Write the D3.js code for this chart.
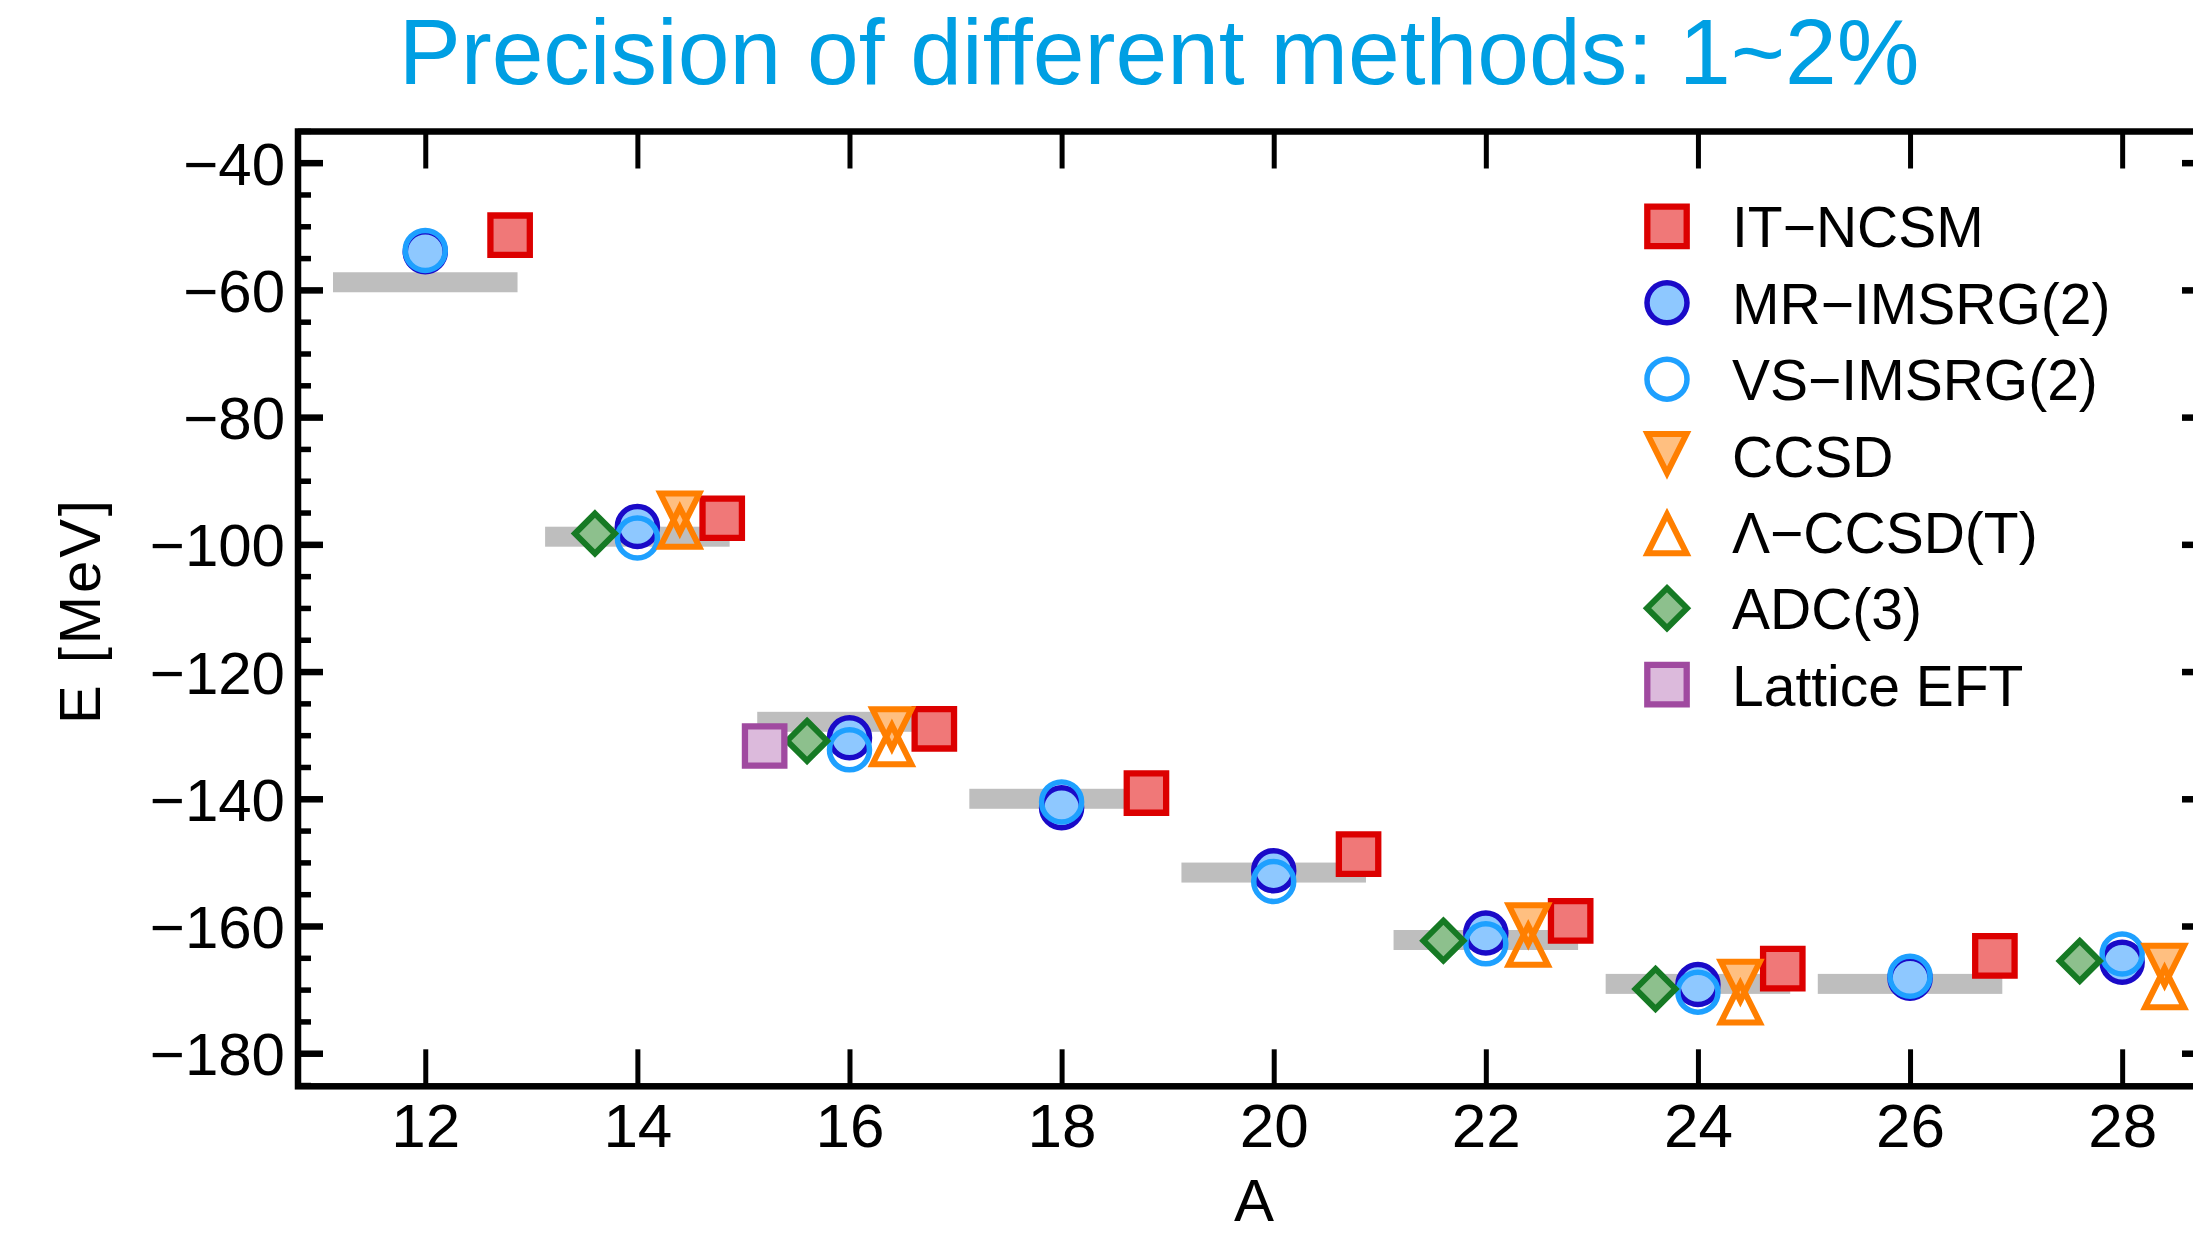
<!DOCTYPE html>
<html>
<head>
<meta charset="utf-8">
<script src="https://cdn.jsdelivr.net/npm/d3@7"></script>
<style>
  html, body { margin: 0; padding: 0; background: #ffffff; }
  svg { display: block; }
  text { font-family: "Liberation Sans", Arial, Helvetica, sans-serif; }
</style>
</head>
<body>
<div id="chart"></div>
<script>
// ---------------- data ----------------
const massNumbers = [12, 14, 16, 18, 20, 22, 24, 26, 28];
const experiment   = [-58.8, -98.8, -127.9, -140.0, -151.6, -162.2, -169.1, -169.1, null];
const itNcsm       = [-51.4, -95.9, -129.0, -139.1, -148.7, -159.2, -166.7, -164.7, null];
const mrImsrg2     = [-54.0, -97.2, -130.4, -141.4, -151.3, -161.1, -169.2, -168.2, -165.7];
const vsImsrg2     = [-53.8, -99.0, -132.3, -140.5, -153.0, -162.8, -170.4, -167.9, -164.4];
const ccsd         = [null, -95.4, -129.3, null, null, -160.1, -169.0, null, -166.5];
const lambdaCcsdT  = [null, -97.0, -131.2, null, null, -162.7, -171.8, null, -169.4];
const adc3         = [null, -98.3, -130.9, null, null, -162.3, -169.9, null, -165.5];
const latticeEft   = [null, null, -131.7, null, null, null, null, null, null];

const seriesNames  = ["IT\u2212NCSM", "MR\u2212IMSRG(2)", "VS\u2212IMSRG(2)", "CCSD", "\u039B\u2212CCSD(T)", "ADC(3)", "Lattice EFT"];
const seriesValues = [itNcsm, mrImsrg2, vsImsrg2, ccsd, lambdaCcsdT, adc3, latticeEft];
const seriesShiftA = [0.8, 0, 0, 0.4, 0.4, -0.4, -0.8];   // horizontal offset in A units
const exptHalfWidthA = 0.87;

const xTickValues = [12, 14, 16, 18, 20, 22, 24, 26, 28];
const yMajorTicks = [-40, -60, -80, -100, -120, -140, -160, -180];
const yMinorTicks = d3.range(-35, -186, -5).filter(v => v % 20 !== 0);

const titleText = "Precision of different methods: 1~2%";
const xLabel = "A";
const yLabel = "E [MeV]";

// ---------------- styles ----------------
const styles = [
  { shape: "square",  fill: "#f07878", stroke: "#dc0000", sw: 6.3 },
  { shape: "circle",  fill: "#8ec8ff", stroke: "#1a0ac8", sw: 5.5 },
  { shape: "circle",  fill: "none",    stroke: "#1ea0ff", sw: 5.5 },
  { shape: "down",    fill: "#ffbf80", stroke: "#ff7f00", sw: 6 },
  { shape: "up",      fill: "none",    stroke: "#ff7f00", sw: 6 },
  { shape: "diamond", fill: "#8dc08d", stroke: "#167a24", sw: 6 },
  { shape: "square",  fill: "#dcbadc", stroke: "#a04aa0", sw: 6.3 }
];

const W = 2193, H = 1238;
const L = 298, R = 2207, T = 131.5, B = 1086.3;

const svg = d3.select("#chart").append("svg")
  .attr("width", W).attr("height", H);

svg.append("rect").attr("width", W).attr("height", H).attr("fill", "#ffffff");

const x = d3.scaleLinear().domain([10.8, 28.8]).range([L, R]);
const y = d3.scaleLinear().domain([-35.1, -185.2]).range([T, B]);

svg.append("defs").append("clipPath").attr("id", "plotclip")
  .append("rect").attr("x", L).attr("y", T).attr("width", R - L).attr("height", B - T);

const plot = svg.append("g").attr("clip-path", "url(#plotclip)");

// experimental bars
const exptData = massNumbers.map((a, i) => ({ a, e: experiment[i] })).filter(d => d.e !== null);
plot.selectAll("rect.expt").data(exptData).enter().append("rect")
  .attr("class", "expt")
  .attr("x", d => x(d.a - exptHalfWidthA))
  .attr("width", d => x(d.a + exptHalfWidthA) - x(d.a - exptHalfWidthA))
  .attr("y", d => y(d.e) - 10)
  .attr("height", 20)
  .attr("fill", "#bebebe");

function symbolPath(shape) {
  switch (shape) {
    case "square":  return "M-19.7,-19.7H19.7V19.7H-19.7Z";
    case "diamond": return "M0,-20L20,0L0,20L-20,0Z";
    case "down":    return "M-19.5,-21.5L19.5,-21.5L0,17.5Z";
    case "up":      return "M0,-17.5L19.5,21.5L-19.5,21.5Z";
  }
  return null;
}

function drawSymbol(g, st) {
  if (st.shape === "circle") {
    g.append("circle").attr("r", 20)
      .attr("fill", st.fill).attr("stroke", st.stroke).attr("stroke-width", st.sw);
  } else {
    g.append("path").attr("d", symbolPath(st.shape))
      .attr("fill", st.fill).attr("stroke", st.stroke).attr("stroke-width", st.sw)
      .attr("stroke-linejoin", "miter").attr("stroke-miterlimit", 10);
  }
}

seriesValues.forEach((vals, si) => {
  const pts = massNumbers.map((a, i) => ({ a: a + seriesShiftA[si], e: vals[i] })).filter(d => d.e !== null);
  pts.forEach(p => {
    const g = plot.append("g").attr("transform", `translate(${x(p.a)},${y(p.e)})`);
    drawSymbol(g, styles[si]);
  });
});

// ---------------- axes ----------------
const xb = svg.append("g").attr("transform", `translate(0,${B})`)
  .call(d3.axisBottom(x).tickValues(xTickValues).tickSizeInner(-37).tickSizeOuter(0).tickPadding(0).tickFormat(d3.format("d")));
xb.select(".domain").remove();
xb.selectAll(".tick line").attr("stroke", "#000").attr("stroke-width", 5);
xb.selectAll(".tick text").attr("y", 61).attr("dy", 0).attr("font-size", 62).attr("fill", "#000")
  .attr("font-family", "Liberation Sans, Arial, sans-serif");

const xt = svg.append("g").attr("transform", `translate(0,${T})`)
  .call(d3.axisTop(x).tickValues(xTickValues).tickSizeInner(-37).tickSizeOuter(0).tickFormat(""));
xt.select(".domain").remove();
xt.selectAll(".tick line").attr("stroke", "#000").attr("stroke-width", 5);

const yl = svg.append("g").attr("transform", `translate(${L},0)`)
  .call(d3.axisLeft(y).tickValues(yMajorTicks).tickSizeInner(-25).tickSizeOuter(0).tickPadding(13));
yl.select(".domain").remove();
yl.selectAll(".tick line").attr("stroke", "#000").attr("stroke-width", 6.5);
yl.selectAll(".tick text").attr("dy", "0.36em").attr("font-size", 60).attr("fill", "#000")
  .attr("font-family", "Liberation Sans, Arial, sans-serif");

const ylm = svg.append("g").attr("transform", `translate(${L},0)`)
  .call(d3.axisLeft(y).tickValues(yMinorTicks).tickSizeInner(-13).tickSizeOuter(0).tickFormat(""));
ylm.select(".domain").remove();
ylm.selectAll(".tick line").attr("stroke", "#000").attr("stroke-width", 5.5);

const yr = svg.append("g").attr("transform", `translate(${R},0)`)
  .call(d3.axisRight(y).tickValues(yMajorTicks).tickSizeInner(-25).tickSizeOuter(0).tickFormat(""));
yr.select(".domain").remove();
yr.selectAll(".tick line").attr("stroke", "#000").attr("stroke-width", 6.5);

const yrm = svg.append("g").attr("transform", `translate(${R},0)`)
  .call(d3.axisRight(y).tickValues(yMinorTicks).tickSizeInner(-13).tickSizeOuter(0).tickFormat(""));
yrm.select(".domain").remove();
yrm.selectAll(".tick line").attr("stroke", "#000").attr("stroke-width", 5.5);

// frame
svg.append("rect").attr("x", L).attr("y", T).attr("width", R - L).attr("height", B - T)
  .attr("fill", "none").attr("stroke", "#000").attr("stroke-width", 6.5);

// axis labels
svg.append("text").attr("x", 1254).attr("y", 1221).attr("text-anchor", "middle")
  .attr("font-size", 60).attr("fill", "#000").text(xLabel);

svg.append("text").attr("transform", "translate(100,612) rotate(-90)")
  .attr("text-anchor", "middle").attr("font-size", 58).attr("fill", "#000")
  .attr("textLength", 224).attr("lengthAdjust", "spacing").text(yLabel);

// title
svg.append("text").attr("x", 1159).attr("y", 84).attr("text-anchor", "middle")
  .attr("font-size", 93).attr("fill", "#009fe3").text(titleText);

// legend
const legend = svg.append("g");
const legY = d3.scaleLinear().domain([0, 6]).range([226.4, 684.6]);
seriesNames.forEach((name, i) => {
  const g = legend.append("g").attr("transform", `translate(1667,${legY(i)})`);
  drawSymbol(g, styles[i]);
  legend.append("text").attr("x", 1732).attr("y", legY(i) + 21)
    .attr("font-size", 57).attr("fill", "#000").text(name);
});
</script>
</body>
</html>
